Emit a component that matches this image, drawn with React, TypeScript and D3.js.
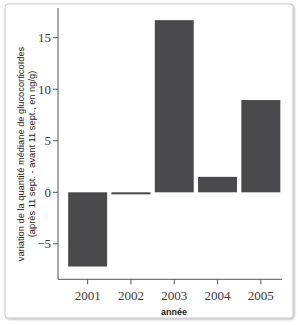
import React from "react";
import * as d3 from "d3";

const years = ["2001", "2002", "2003", "2004", "2005"];
const values = [-7.2, -0.2, 16.7, 1.5, 8.95];
const yTicks = [-5, 0, 5, 10, 15];
const yLabel1 = "variation de la quantité médiane de glucocorticoïdes";
const yLabel2 = "(après 11 sept. - avant 11 sept., en ng/g)";
const xLabel = "année";

export default function App() {
  const W = 298, H = 325;
  const axisX = 58, axisY = 279.3, axisTop = 8, axisRight = 282;
  const x = d3.scaleBand<string>().domain(years).range([66, 282.5]).paddingInner(0.1).paddingOuter(0.05);
  const y = d3.scaleLinear().domain([-8.44, 17.88]).range([axisY, axisTop]);
  const axisColor = "#555";
  const serifStyle = { fontFamily: "Liberation Serif, Times New Roman, serif" };
  const sansStyle = { fontFamily: "Liberation Sans, Arial, sans-serif" };
  return (
    <svg width={W} height={H} style={{ position: "absolute", left: 0, top: 0, background: "#fff" }}>
      <defs>
        <filter id="sh" x="-5%" y="-5%" width="110%" height="110%">
          <feDropShadow dx="1" dy="1" stdDeviation="1" floodColor="#000" floodOpacity="0.3" />
        </filter>
      </defs>
      <rect x={5} y={4} width={288} height={314} rx={3} fill="#fff" stroke="#c8c8c8" strokeWidth={1} filter="url(#sh)" />
      {years.map((yr, i) => {
        const v = values[i];
        const y0 = y(0), y1 = y(v);
        return (
          <rect key={yr} x={x(yr)} y={Math.min(y0, y1)} width={x.bandwidth()} height={Math.abs(y1 - y0)} fill="#4a4a4c" />
        );
      })}
      <line x1={axisX} x2={axisX} y1={axisTop} y2={axisY} stroke={axisColor} strokeWidth={1} />
      <line x1={axisX} x2={axisRight} y1={axisY} y2={axisY} stroke={axisColor} strokeWidth={1} />
      {yTicks.map((t) => (
        <g key={t}>
          <line x1={axisX - 5} x2={axisX} y1={y(t)} y2={y(t)} stroke={axisColor} />
          <text x={axisX - 7} y={y(t)} dy="0.35em" textAnchor="end" style={serifStyle} fontSize={13} fill="#3a3a3a">
            {t < 0 ? "\u2212" + Math.abs(t) : t}
          </text>
        </g>
      ))}
      {years.map((yr) => {
        const cx = (x(yr) as number) + x.bandwidth() / 2;
        return (
          <g key={yr}>
            <line x1={cx} x2={cx} y1={axisY} y2={axisY + 5} stroke={axisColor} />
            <text x={cx} y={300} textAnchor="middle" style={serifStyle} fontSize={13} fill="#3a3a3a">{yr}</text>
          </g>
        );
      })}
      <text x={174} y={315} textAnchor="middle" style={sansStyle} fontSize={9} fontWeight="bold" fill="#222">{xLabel}</text>
      <g transform="translate(24,154) rotate(-90)">
        <text x={0} y={0} textAnchor="middle" style={sansStyle} fontSize={9.3} fill="#222">{yLabel1}</text>
        <text x={0} y={11} textAnchor="middle" style={sansStyle} fontSize={9.3} fill="#222">{yLabel2}</text>
      </g>
    </svg>
  );
}
